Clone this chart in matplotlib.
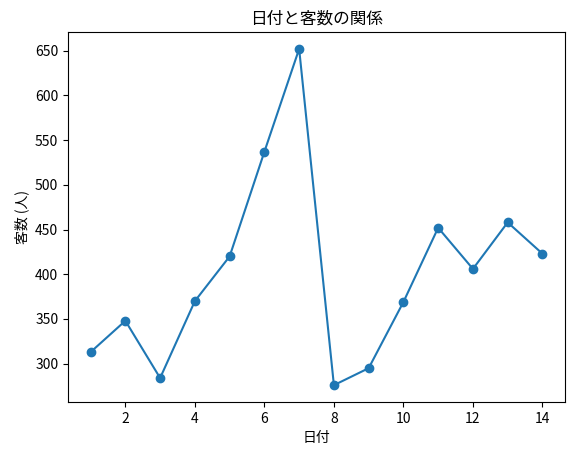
import matplotlib
matplotlib.use('Agg')
import matplotlib.pyplot as plt

plt.rcParams['font.family'] = ['Noto Sans CJK JP', 'DejaVu Sans']

days = list(range(1, 15))
visitors = [313, 348, 284, 370, 420, 537, 652, 276, 295, 369, 452, 406, 458, 423]

fig = plt.figure(figsize=(5.73, 4.55), dpi=100)
ax = fig.add_axes([0.1187, 0.1165, 0.8674, 0.813])
ax.plot(days, visitors, marker='o')
ax.set_title('日付と客数の関係')
ax.set_xlabel('日付')
ax.set_ylabel('客数 (人)')

fig.savefig('out.png', dpi=100)
